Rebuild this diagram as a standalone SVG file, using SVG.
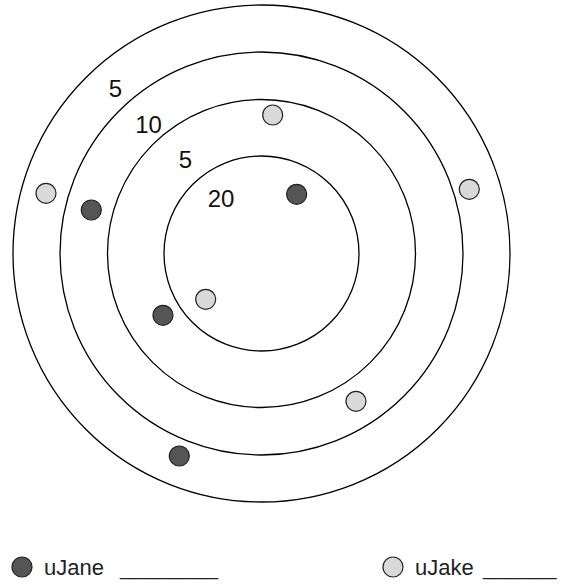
<svg xmlns="http://www.w3.org/2000/svg" width="562" height="584" viewBox="0 0 562 584">
<style>
.ring{fill:none;stroke:#000;stroke-width:1.3}
.jane{fill:#555;stroke:#222;stroke-width:1.2}
.jake{fill:#d9d9d9;stroke:#222;stroke-width:1.2}
.lbl{font-family:"Liberation Sans",Arial,sans-serif;font-size:24px;fill:#111;text-anchor:middle}
.leg{font-family:"Liberation Sans",Arial,sans-serif;font-size:22px;fill:#222}
</style>
<rect width="562" height="584" fill="#fff"/>
<g id="rings">
<circle class="ring" cx="261.5" cy="253.5" r="248.5"/>
<circle class="ring" cx="261.5" cy="253.5" r="201.5"/>
<circle class="ring" cx="261.5" cy="253.5" r="154"/>
<circle class="ring" cx="261.5" cy="253.5" r="97.5"/>
</g>
<g id="labels">
<text class="lbl" x="115.5" y="97">5</text>
<text class="lbl" x="148.5" y="132.5">10</text>
<text class="lbl" x="185.5" y="168">5</text>
<text class="lbl" x="221" y="206.5">20</text>
</g>
<g id="jane-dots">
<circle class="jane" cx="91.3" cy="210" r="10"/>
<circle class="jane" cx="296.7" cy="194.3" r="10"/>
<circle class="jane" cx="163" cy="315.3" r="10"/>
<circle class="jane" cx="179.3" cy="456" r="10"/>
</g>
<g id="jake-dots">
<circle class="jake" cx="46" cy="193.3" r="10"/>
<circle class="jake" cx="272.7" cy="115" r="10"/>
<circle class="jake" cx="469.3" cy="189.3" r="10"/>
<circle class="jake" cx="205.7" cy="299.3" r="10"/>
<circle class="jake" cx="356" cy="401.3" r="10"/>
</g>
<g id="legend-jane">
<circle class="jane" cx="22" cy="567" r="10"/>
<text class="leg" x="44" y="575">uJane <tspan x="120">________</tspan></text>
</g>
<g id="legend-jake">
<circle class="jake" cx="393" cy="567" r="10"/>
<text class="leg" x="415" y="575">uJake <tspan x="483">______</tspan></text>
</g>
</svg>
